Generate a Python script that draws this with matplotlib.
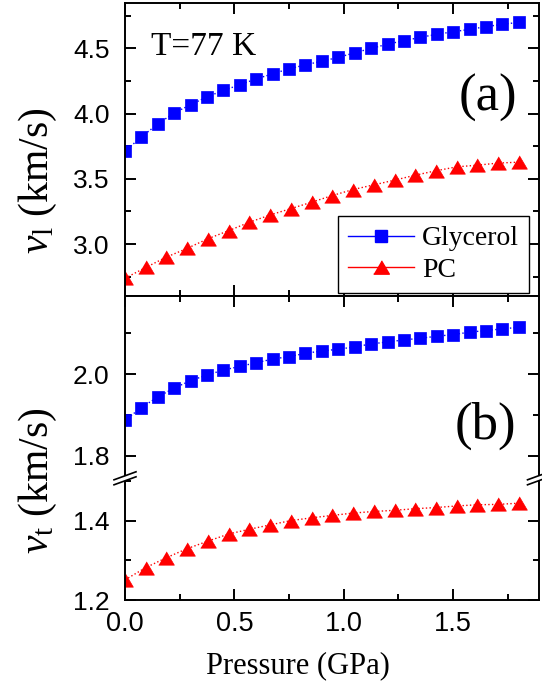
import matplotlib
matplotlib.use("Agg")
import matplotlib.pyplot as plt
from matplotlib.lines import Line2D
from matplotlib.patches import Polygon
from matplotlib.ticker import MultipleLocator

plt.rcParams['mathtext.fontset'] = 'custom'
plt.rcParams['mathtext.rm'] = 'Liberation Serif'
plt.rcParams['mathtext.it'] = 'Liberation Serif:italic'

# ---------------- data ----------------
pressure_gly = [0.000, 0.075, 0.150, 0.225, 0.300, 0.375, 0.450, 0.525, 0.600,
                0.675, 0.750, 0.825, 0.900, 0.975, 1.050, 1.125, 1.200, 1.275,
                1.350, 1.425, 1.500, 1.575, 1.650, 1.725, 1.800]
pressure_pc = [0.000, 0.095, 0.189, 0.284, 0.379, 0.474, 0.568, 0.663, 0.758,
               0.853, 0.947, 1.042, 1.137, 1.232, 1.326, 1.421, 1.516, 1.611,
               1.705, 1.800]

vl_gly = [3.713, 3.821, 3.921, 4.005, 4.069, 4.128, 4.179, 4.221, 4.267, 4.305,
          4.344, 4.374, 4.403, 4.431, 4.467, 4.500, 4.533, 4.559, 4.585, 4.608,
          4.628, 4.646, 4.667, 4.685, 4.700]
vl_pc = [2.738, 2.821, 2.900, 2.967, 3.041, 3.103, 3.167, 3.223, 3.272, 3.321,
         3.372, 3.418, 3.454, 3.490, 3.528, 3.562, 3.592, 3.605, 3.621, 3.628]

vt_gly = [1.887, 1.918, 1.944, 1.966, 1.984, 1.998, 2.010, 2.019, 2.028, 2.037,
          2.043, 2.051, 2.057, 2.061, 2.067, 2.074, 2.079, 2.084, 2.088, 2.093,
          2.097, 2.103, 2.107, 2.111, 2.115]
vt_pc = [1.251, 1.282, 1.307, 1.330, 1.349, 1.367, 1.379, 1.390, 1.401, 1.408,
         1.414, 1.420, 1.424, 1.427, 1.431, 1.434, 1.438, 1.441, 1.442, 1.445]

series_names = ["Glycerol", "PC"]
xticks = [0.0, 0.5, 1.0, 1.5]
xtick_labels = ["0.0", "0.5", "1.0", "1.5"]

# ---------------- style ----------------
W, H = 542, 681
BLUE = '#0000FF'
RED = '#FF0000'
SERIF = 'Liberation Serif'
SANS = 'Liberation Sans'
TRI = [(-1, -0.85), (1, -0.85), (0, 0.85)]
SQ_MS = 9.0
TRI_MS = 11.3
YT_FS = 19
XT_FS = 19.5

fig = plt.figure(figsize=(W / 100, H / 100), dpi=100)

L, R = 125, 538.5
def box(top, bottom):
    return [L / W, (H - bottom) / H, (R - L) / W, (bottom - top) / H]

ax_a = fig.add_axes(box(3.3, 296))
ax_bu = fig.add_axes(box(296, 478.3))
ax_bl = fig.add_axes(box(478.3, 600))

def draw(ax, yg, yp):
    ax.plot(pressure_gly, yg, color=BLUE, ls=':', lw=1.0, marker='s', ms=SQ_MS,
            mec=BLUE, mfc=BLUE, mew=0.5)
    ax.plot(pressure_pc, yp, color=RED, ls=':', lw=1.0, marker=TRI, ms=TRI_MS,
            mec=RED, mfc=RED, mew=0.5)

draw(ax_a, vl_gly, vl_pc)
draw(ax_bu, vt_gly, vt_pc)
draw(ax_bl, vt_gly, vt_pc)

ax_a.set_ylim(2.602, 4.846)
ax_bu.set_ylim(1.7445, 2.1917)
ax_bl.set_ylim(1.2, 1.508)

for ax in (ax_a, ax_bu, ax_bl):
    ax.set_xlim(0, 1.89)
    ax.set_xticks(xticks)
    ax.xaxis.set_minor_locator(MultipleLocator(0.25))
    ax.tick_params(which='both', direction='in', top=True, right=True, width=1.4)
    ax.tick_params(which='major', length=7.7)
    ax.tick_params(which='minor', length=4.0)
    ax.tick_params(axis='y', pad=11)
    ax.tick_params(axis='x', pad=8)
    for s in ax.spines.values():
        s.set_linewidth(1.4)

ax_a.yaxis.set_minor_locator(MultipleLocator(0.25))
ax_a.set_yticks([3.0, 3.5, 4.0, 4.5])
ax_a.set_yticklabels(["3.0", "3.5", "4.0", "4.5"], fontfamily=SANS, fontsize=YT_FS)
ax_a.set_xticklabels([])

ax_bu.set_yticks([1.8, 2.0])
ax_bu.set_yticklabels(["1.8", "2.0"], fontfamily=SANS, fontsize=YT_FS)
ax_bu.yaxis.set_minor_locator(MultipleLocator(0.1))
ax_bu.set_xticklabels([])
ax_bu.spines['bottom'].set_visible(False)
ax_bu.tick_params(which='both', bottom=False)

ax_bl.set_yticks([1.2, 1.4])
ax_bl.set_yticklabels(["1.2", "1.4"], fontfamily=SANS, fontsize=YT_FS)
ax_bl.yaxis.set_minor_locator(MultipleLocator(0.1))
ax_bl.spines['top'].set_visible(False)
ax_bl.tick_params(which='both', top=False)
ax_bl.set_xticklabels(xtick_labels, fontfamily=SANS, fontsize=XT_FS)

# annotations
ax_a.text((151 - L) / (R - L), (296 - 55) / (296 - 3.3), "T=77 K", family=SERIF,
          fontsize=24, ha='left', va='baseline', transform=ax_a.transAxes)
ax_a.text((487.5 - L) / (R - L), (296 - 110.7) / (296 - 3.3), "(a)", family=SERIF,
          fontsize=38, ha='center', va='baseline', transform=ax_a.transAxes)
ax_bu.text((485 - L) / (R - L), (478.3 - 439) / (478.3 - 296), "(b)", family=SERIF,
           fontsize=38, ha='center', va='baseline', transform=ax_bu.transAxes)

# legend
handles = [Line2D([], [], color=BLUE, lw=1.0, marker='s', ms=SQ_MS, mec=BLUE, mfc=BLUE),
           Line2D([], [], color=RED, lw=1.0, marker=TRI, ms=TRI_MS, mec=RED, mfc=RED)]
leg = ax_a.legend(handles, series_names, loc='lower right',
                  bbox_to_anchor=((528.7 - L) / (R - L), (296 - 292.7) / (296 - 3.3)),
                  prop={'family': SERIF, 'size': 20}, frameon=True, fancybox=False,
                  framealpha=1, edgecolor='black', handlelength=2.4,
                  handletextpad=0.28, borderpad=0.35, labelspacing=0.22,
                  borderaxespad=0)
leg.get_frame().set_linewidth(1.0)

# axis labels
fig.text(298 / W, (H - 673.3) / H, "Pressure (GPa)", family=SERIF, fontsize=22,
         ha='center', va='baseline')
fig.text(38 / W, (H - 180.8) / H, r"$v_{\mathrm{l}}$ (km/s)", family=SERIF,
         fontsize=30, rotation=90, ha='center', va='center')
fig.text(38 / W, (H - 480.8) / H, r"$v_{\mathrm{t}}$ (km/s)", family=SERIF,
         fontsize=30, rotation=90, ha='center', va='center')

# axis break marks
yb = 478.3
for xs in (L, R):
    l1 = [((xs - 11) / W, (H - yb - 6.5) / H), ((xs + 11) / W, (H - yb + 1.5) / H)]
    l2 = [((xs - 11) / W, (H - yb - 1.5) / H), ((xs + 11) / W, (H - yb + 6.5) / H)]
    poly = Polygon([l1[0], l1[1], l2[1], l2[0]], closed=True, facecolor='white',
                   edgecolor='none', transform=fig.transFigure, zorder=5)
    fig.add_artist(poly)
    for ln in (l1, l2):
        fig.add_artist(Line2D([ln[0][0], ln[1][0]], [ln[0][1], ln[1][1]], color='black',
                              lw=1.2, transform=fig.transFigure, zorder=6))

fig.savefig("out.png", dpi=100)
